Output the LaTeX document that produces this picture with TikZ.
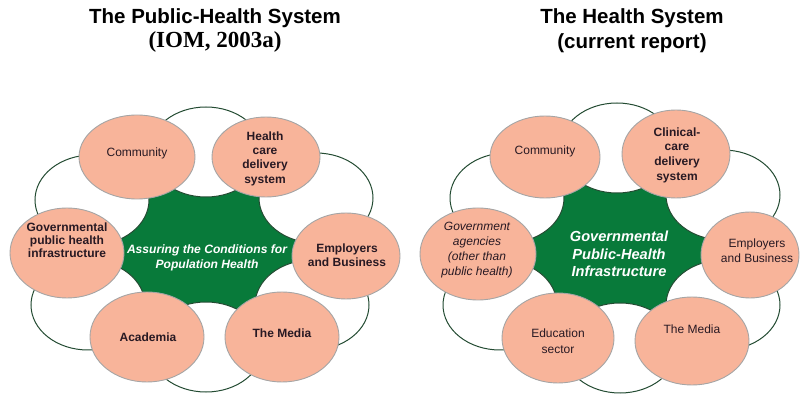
\documentclass[tikz,border=0pt]{standalone}
\usepackage{fontspec}
\setmainfont{Liberation Sans}
\newfontfamily\serifbold{Liberation Serif}
\usetikzlibrary{shapes.geometric}
\definecolor{salmon}{RGB}{248,180,154}
\definecolor{ringline}{RGB}{35,75,50}
\definecolor{hubgreen}{RGB}{8,122,58}
\definecolor{ovalline}{RGB}{165,165,165}
\definecolor{lbltext}{RGB}{40,25,35}
\tikzset{
  oval/.style={ellipse, draw=ovalline, line width=0.9pt, fill=salmon, inner sep=0pt},
  petal/.style={ellipse, draw=ringline, line width=1pt, fill=white, inner sep=0pt,
                minimum width=114pt, minimum height=90pt},
  lblb/.style={align=center, text=lbltext, inner sep=0pt,
               font=\fontsize{12}{14.3}\selectfont\bfseries},
  lblr/.style={align=center, text=lbltext, inner sep=0pt,
               font=\fontsize{12}{15}\selectfont},
  lbli/.style={align=center, text=lbltext, inner sep=0pt,
               font=\fontsize{12}{15}\selectfont\itshape},
  hubtext/.style={align=center, text=white, inner sep=0pt},
  titlesans/.style={anchor=base, inner sep=0pt, font=\fontsize{20.5}{24}\selectfont\bfseries},
}
\begin{document}
\begin{tikzpicture}[x=1pt, y=-1pt]
\useasboundingbox (0,0) rectangle (801,395);

% ---------- titles ----------
\node[titlesans] (ltitle) at (215,24) {The Public-Health System};
\node[anchor=base, inner sep=0pt, font=\serifbold\fontsize{23}{26}\selectfont\bfseries] (lsub) at (215,48) {(IOM, 2003a)};
\node[titlesans] (rtitle) at (632,24) {The Health System};
\node[titlesans] (rsub) at (632,49) {(current report)};

% ---------- left diagram ----------
\coordinate (lc1) at (137,157);
\coordinate (lc2) at (266,157);
\coordinate (lc3) at (346,256);
\coordinate (lc4) at (282,337);
\coordinate (lc5) at (147,337);
\coordinate (lc6) at (67,253);
\fill[hubgreen] (lc1) -- (lc2) -- (lc3) -- (lc4) -- (lc5) -- (lc6) -- cycle;

\node[petal] (lp1) at (206,152) {};
\node[petal] (lp2) at (316,198) {};
\node[petal] (lp3) at (312,305) {};
\node[petal] (lp4) at (206,347) {};
\node[petal] (lp5) at (88,305) {};
\node[petal] (lp6) at (92,200) {};

\node[oval, minimum width=116pt, minimum height=84pt] (lo1) at (lc1) {};
\node[oval, minimum width=108pt, minimum height=80pt] (lo2) at (lc2) {};
\node[oval, minimum width=108pt, minimum height=86pt] (lo3) at (lc3) {};
\node[oval, minimum width=114pt, minimum height=90pt] (lo4) at (lc4) {};
\node[oval, minimum width=114pt, minimum height=90pt] (lo5) at (lc5) {};
\node[oval, minimum width=114pt, minimum height=90pt] (lo6) at (lc6) {};

\node[lblr] (lt1) at (137,153) {Community};
\node[lblb] (lt2) at (265,158.5) {Health\\care\\delivery\\system};
\node[lblb] (lt3) at (347,255) {Employers\\and Business};
\node[lblb] (lt4) at (282,333) {The Media};
\node[lblb] (lt5) at (148,337) {Academia};
\node[lblb, font=\fontsize{12}{13}\selectfont\bfseries] (lt6) at (67,240) {Governmental\\public health\\infrastructure};
\node[hubtext, font=\fontsize{12.1}{15}\selectfont\bfseries\itshape] (lhub) at (207,257.5) {Assuring the Conditions for\\Population Health};

% ---------- right diagram ----------
\coordinate (rc1) at (545,157);
\coordinate (rc2) at (676,154);
\coordinate (rc3) at (750,255);
\coordinate (rc4) at (692,341);
\coordinate (rc5) at (558,338);
\coordinate (rc6) at (478,254);
\fill[hubgreen] (rc1) -- (rc2) -- (rc3) -- (rc4) -- (rc5) -- (rc6) -- cycle;

\node[petal] (rp1) at (617,148) {};
\node[petal] (rp2) at (723,195) {};
\node[petal] (rp3) at (723,305) {};
\node[petal] (rp4) at (620,348) {};
\node[petal] (rp5) at (500,305) {};
\node[petal] (rp6) at (507,198) {};

\node[oval, minimum width=110pt, minimum height=82pt] (ro1) at (rc1) {};
\node[oval, minimum width=108pt, minimum height=88pt] (ro2) at (rc2) {};
\node[oval, minimum width=98pt, minimum height=86pt] (ro3) at (rc3) {};
\node[oval, minimum width=114pt, minimum height=88pt] (ro4) at (rc4) {};
\node[oval, minimum width=112pt, minimum height=90pt] (ro5) at (rc5) {};
\node[oval, minimum width=116pt, minimum height=92pt] (ro6) at (rc6) {};

\node[lblr] (rt1) at (545,151) {Community};
\node[lblb, font=\fontsize{12}{14.7}\selectfont\bfseries] (rt2) at (677,155) {Clinical-\\care\\delivery\\system};
\node[lblr] (rt3) at (757,250.5) {Employers\\and Business};
\node[lblr] (rt4) at (692,329) {The Media};
\node[lblr, font=\fontsize{12}{16}\selectfont] (rt5) at (558,341) {Education\\sector};
\node[lbli] (rt6) at (477,250.5) {Government\\agencies\\(other than\\public health)};
\node[hubtext, font=\fontsize{14.6}{17.5}\selectfont\bfseries\itshape] (rhub) at (619,254) {Governmental\\Public-Health\\Infrastructure};
\end{tikzpicture}
\end{document}
